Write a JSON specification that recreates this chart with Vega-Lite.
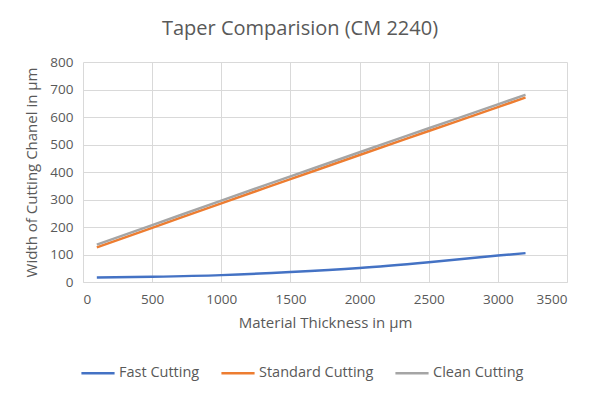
{
  "$schema": "https://vega.github.io/schema/vega-lite/v6.json",
  "autosize": "none",
  "width": 484,
  "height": 220,
  "padding": {"left": 83, "top": 62, "right": 33, "bottom": 115},
  "background": "white",
  "config": {
    "font": "Open Sans",
    "view": {"stroke": null},
    "axis": {"labelColor": "#595959", "titleColor": "#595959", "gridColor": "#D9D9D9", "labelFontSize": 13.5, "titleFontSize": 15, "titleFontWeight": "normal", "ticks": false}
  },
  "title": {"text": "Taper Comparision (CM 2240)", "fontSize": 20, "fontWeight": "normal", "color": "#595959", "anchor": "middle", "dx": -25, "offset": 16},
  "data": {"values": [
    {"x": 100, "y": 16, "s": "Fast Cutting"},
    {"x": 500, "y": 19, "s": "Fast Cutting"},
    {"x": 1000, "y": 25, "s": "Fast Cutting"},
    {"x": 1500, "y": 36, "s": "Fast Cutting"},
    {"x": 2000, "y": 51, "s": "Fast Cutting"},
    {"x": 2500, "y": 72, "s": "Fast Cutting"},
    {"x": 3000, "y": 96, "s": "Fast Cutting"},
    {"x": 3200, "y": 105, "s": "Fast Cutting"},
    {"x": 100, "y": 126, "s": "Standard Cutting"},
    {"x": 500, "y": 197, "s": "Standard Cutting"},
    {"x": 1000, "y": 286, "s": "Standard Cutting"},
    {"x": 1500, "y": 374, "s": "Standard Cutting"},
    {"x": 2000, "y": 462, "s": "Standard Cutting"},
    {"x": 2500, "y": 549, "s": "Standard Cutting"},
    {"x": 3000, "y": 636, "s": "Standard Cutting"},
    {"x": 3200, "y": 671, "s": "Standard Cutting"},
    {"x": 100, "y": 136, "s": "Clean Cutting"},
    {"x": 500, "y": 207, "s": "Clean Cutting"},
    {"x": 1000, "y": 296, "s": "Clean Cutting"},
    {"x": 1500, "y": 384, "s": "Clean Cutting"},
    {"x": 2000, "y": 472, "s": "Clean Cutting"},
    {"x": 2500, "y": 559, "s": "Clean Cutting"},
    {"x": 3000, "y": 646, "s": "Clean Cutting"},
    {"x": 3200, "y": 681, "s": "Clean Cutting"}
  ]},
  "mark": {"type": "line", "strokeWidth": 2.5, "interpolate": "monotone"},
  "encoding": {
    "x": {"field": "x", "type": "quantitative", "title": "Material Thickness in µm", "scale": {"domain": [0, 3500], "nice": false}, "axis": {"values": [0,500,1000,1500,2000,2500,3000,3500], "format": "d", "labelPadding": 10, "titlePadding": 10, "domainColor": "#D9D9D9"}},
    "y": {"field": "y", "type": "quantitative", "title": "Width of Cutting Chanel in µm", "scale": {"domain": [0, 800], "nice": false}, "axis": {"values": [0,100,200,300,400,500,600,700,800], "format": "d", "labelPadding": 10, "titlePadding": 10, "domain": false}},
    "color": {"field": "s", "type": "nominal", "scale": {"domain": ["Fast Cutting", "Standard Cutting", "Clean Cutting"], "range": ["#4472C4", "#ED7D31", "#A5A5A5"]},
      "legend": {"title": null, "orient": "none", "direction": "horizontal", "legendX": -3, "legendY": 293, "symbolType": "stroke", "symbolSize": 1100, "symbolStrokeWidth": 2.5, "labelFontSize": 14.5, "labelColor": "#595959", "columnPadding": 16, "labelOffset": 3}}
  }
}
